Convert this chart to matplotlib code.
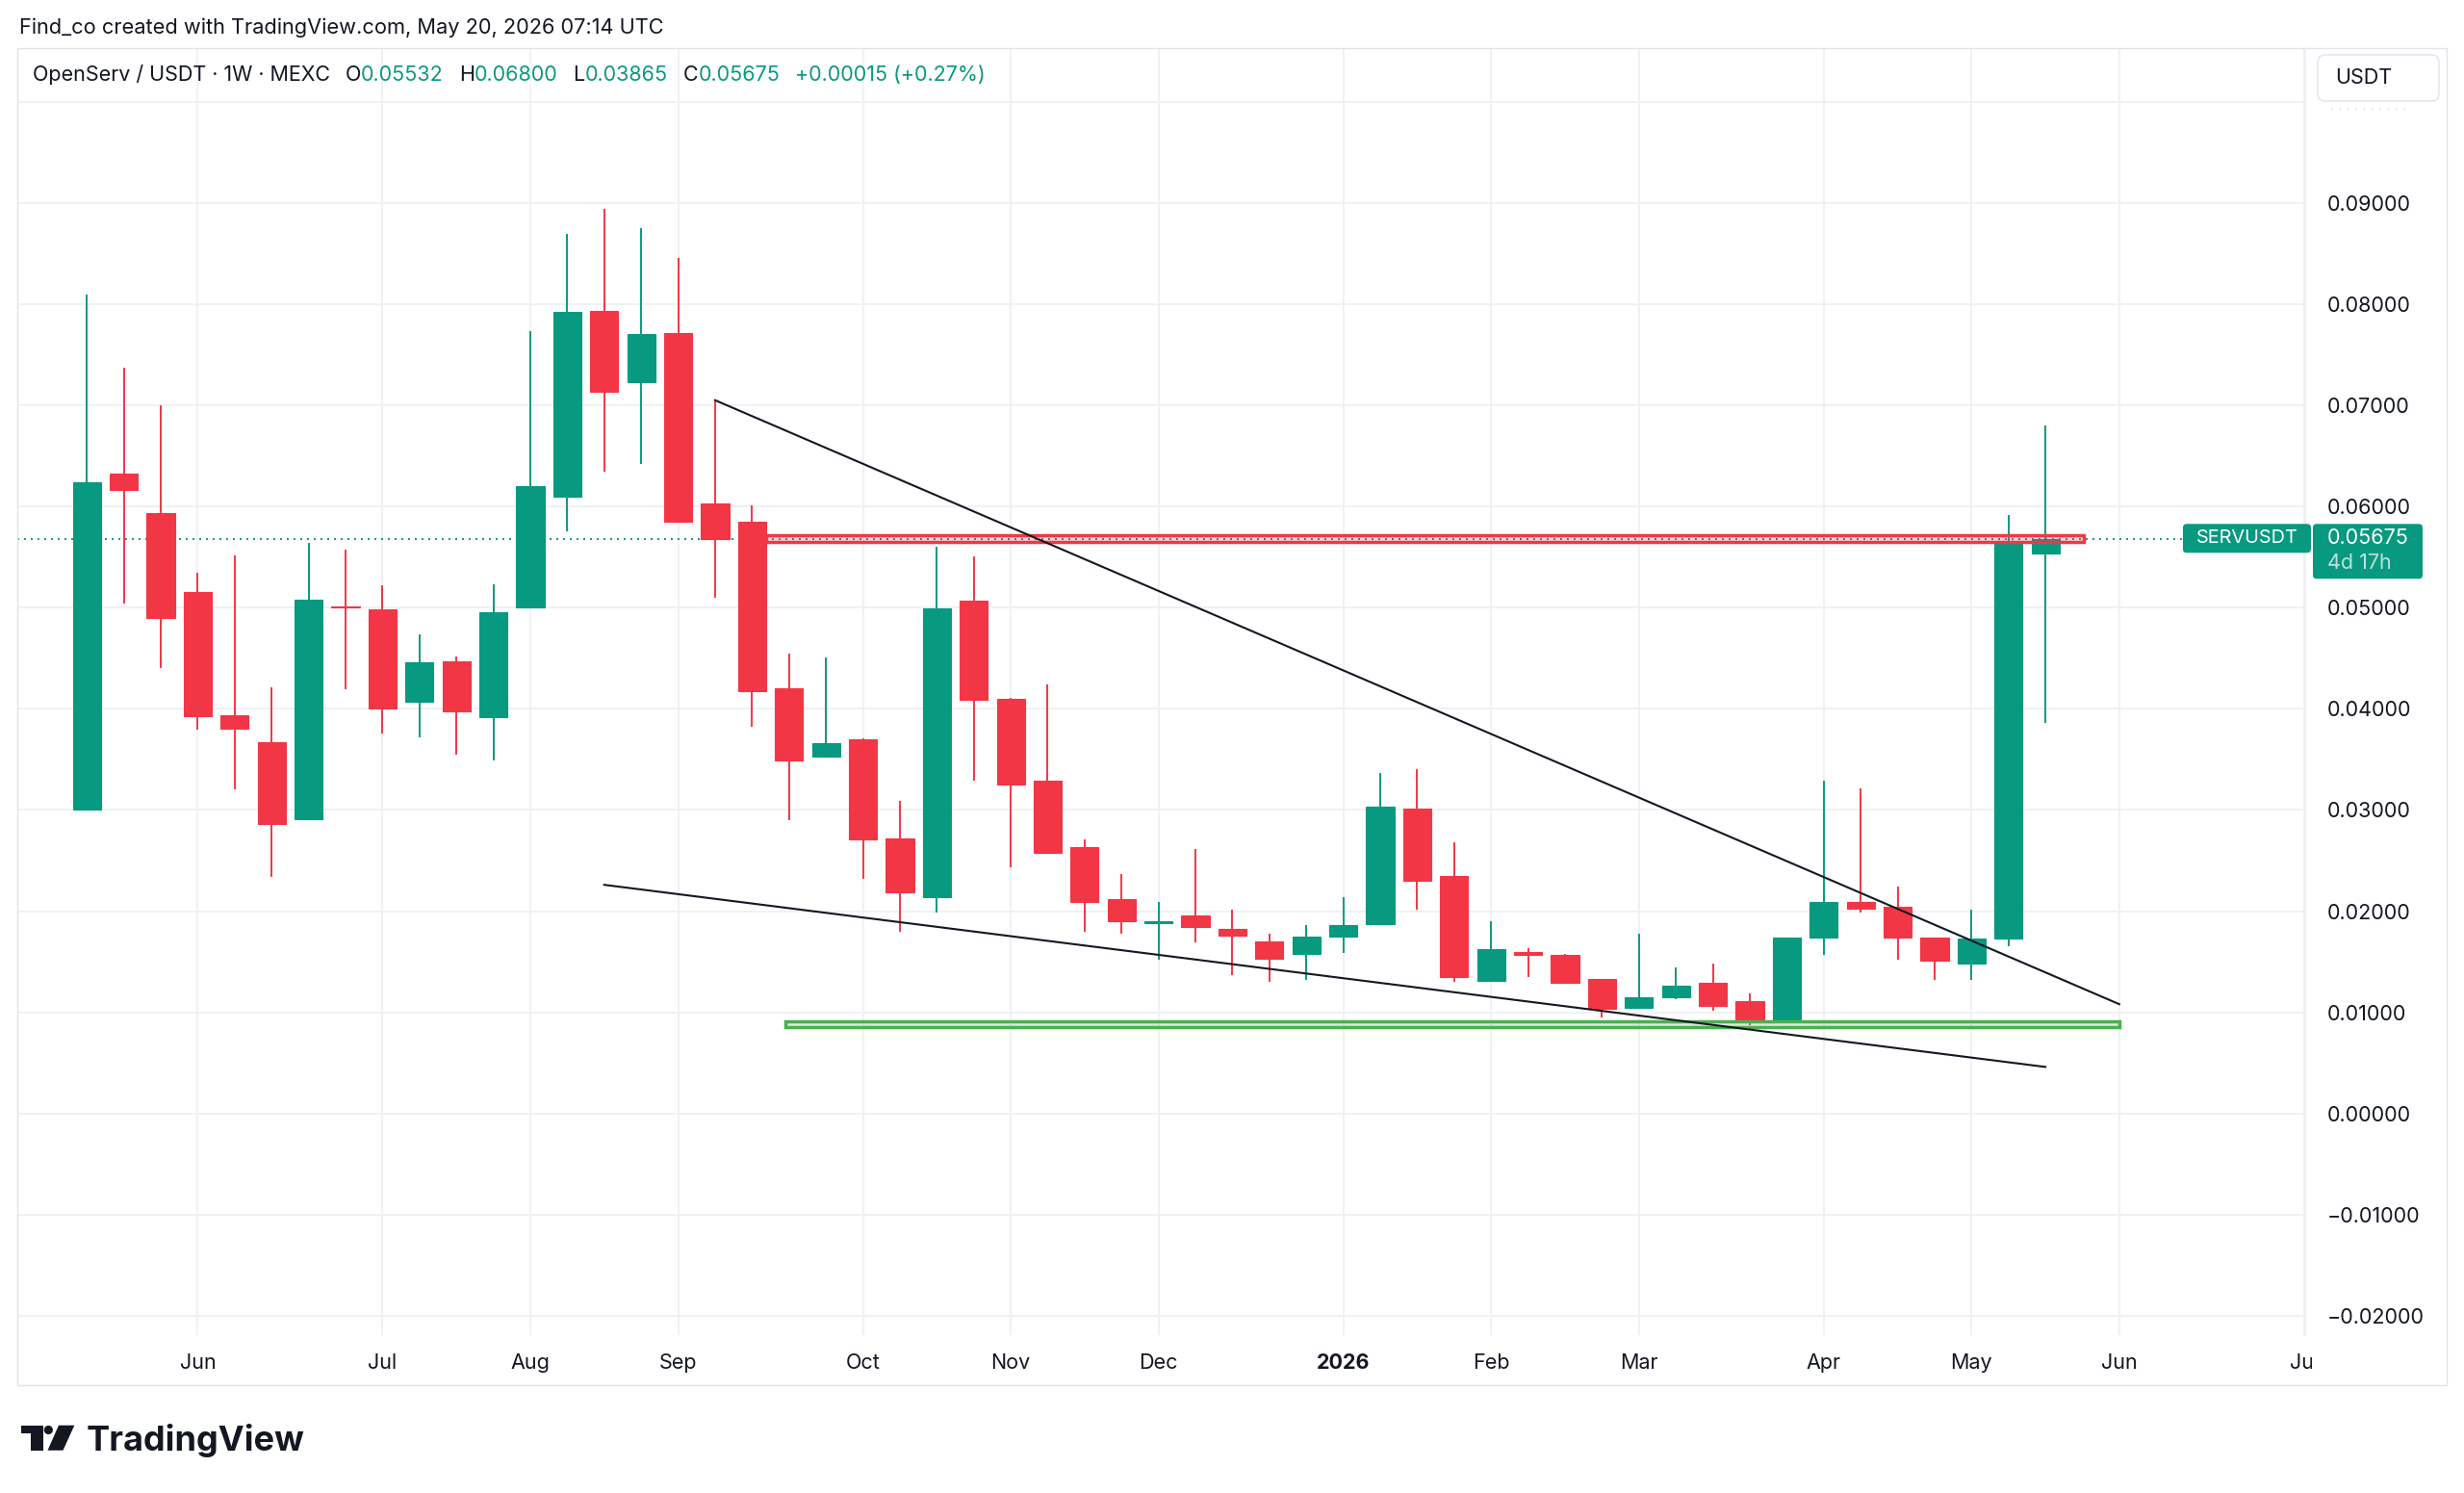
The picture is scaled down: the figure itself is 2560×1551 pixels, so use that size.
import matplotlib
matplotlib.use("Agg")  # no display
import matplotlib.pyplot as plt
from matplotlib.patches import Rectangle, FancyBboxPatch, Circle, Polygon
import numpy as np

W, H, DPI = 2560, 1551, 100

# weekly candles, week 0 = 12 May 2025 ... week 53 = 18 May 2026
opens = [0.0300, 0.0632, 0.0593, 0.0515, 0.0394, 0.0367, 0.0291, 0.0501, 0.0498, 0.0407,
         0.0447, 0.0392, 0.0500, 0.0610, 0.0793, 0.0723, 0.0771, 0.0603, 0.0585, 0.0420,
         0.0353, 0.0370, 0.0272, 0.0214, 0.0507, 0.0410, 0.0329, 0.0263, 0.0212, 0.0188,
         0.0196, 0.0182, 0.0170, 0.0158, 0.0175, 0.0187, 0.0301, 0.0235, 0.0131, 0.0160,
         0.0157, 0.0133, 0.0104, 0.0115, 0.0129, 0.0111, 0.0093, 0.0174, 0.0209, 0.0204,
         0.0174, 0.0148, 0.0173, 0.05532]
highs = [0.0809, 0.0737, 0.0700, 0.0534, 0.0552, 0.0421, 0.0564, 0.0557, 0.0522, 0.0474,
         0.0452, 0.0523, 0.0773, 0.0869, 0.0894, 0.0875, 0.0846, 0.0705, 0.0601, 0.0455,
         0.0451, 0.0371, 0.0309, 0.0560, 0.0551, 0.0411, 0.0424, 0.0271, 0.0237, 0.0209,
         0.0261, 0.0201, 0.0178, 0.0186, 0.0214, 0.0337, 0.0340, 0.0268, 0.0190, 0.0163,
         0.0158, 0.0133, 0.0178, 0.0144, 0.0148, 0.0119, 0.0174, 0.0329, 0.0321, 0.0224,
         0.0174, 0.0201, 0.0592, 0.06800]
lows = [0.0300, 0.0504, 0.0440, 0.0379, 0.0320, 0.0234, 0.0291, 0.0419, 0.0376, 0.0372,
        0.0355, 0.0349, 0.0500, 0.0575, 0.0634, 0.0642, 0.0585, 0.0510, 0.0382, 0.0290,
        0.0353, 0.0232, 0.0180, 0.0199, 0.0329, 0.0243, 0.0258, 0.0180, 0.0178, 0.0152,
        0.0169, 0.0137, 0.0130, 0.0132, 0.0159, 0.0187, 0.0201, 0.0130, 0.0131, 0.0135,
        0.0129, 0.0095, 0.0103, 0.0113, 0.0102, 0.0087, 0.0093, 0.0157, 0.0199, 0.0152,
        0.0132, 0.0132, 0.0165, 0.03865]
closes = [0.0624, 0.0616, 0.0490, 0.0393, 0.0380, 0.0286, 0.0508, 0.0500, 0.0400, 0.0446,
          0.0397, 0.0495, 0.0620, 0.0792, 0.0713, 0.0770, 0.0585, 0.0568, 0.0417, 0.0349,
          0.0366, 0.0271, 0.0219, 0.0499, 0.0409, 0.0325, 0.0258, 0.0209, 0.0190, 0.0190,
          0.0184, 0.0176, 0.0153, 0.0175, 0.0186, 0.0303, 0.0230, 0.0135, 0.0162, 0.0157,
          0.0129, 0.0103, 0.0115, 0.0126, 0.0106, 0.0092, 0.0174, 0.0209, 0.0202, 0.0174,
          0.0151, 0.0173, 0.0566, 0.05675]

# first weekly bar of each month
month_weeks = [3, 8, 12, 16, 21, 25, 29, 34, 38, 42, 47, 51, 55, 60]
month_labels = ["Jun", "Jul", "Aug", "Sep", "Oct", "Nov", "Dec", "2026",
                "Feb", "Mar", "Apr", "May", "Jun", "Jul"]
price_ticks = [-0.02, -0.01, 0.0, 0.01, 0.02, 0.03, 0.04, 0.05, 0.06, 0.07, 0.08, 0.09, 0.10]

# drawings
upper_trend_x = [17, 55]
upper_trend_y = [0.0705, 0.0108]
lower_trend_x = [14, 53]
lower_trend_y = [0.0226, 0.0046]
resistance_x = [18.38, 54.03]
resistance_y = [0.0565, 0.0572]
support_x = [18.9, 55.0]
support_y = [0.00853, 0.00911]

symbol = "SERVUSDT"
countdown = "4d 17h"

TEAL = "#089981"
RED = "#F23645"
GREEN = "#4CAF50"
DARK = "#131722"
GRID = "#f0f1f3"
BORDER = "#e0e3eb"
FS = 15.5

plt.rcParams["font.family"] = ["Inter", "DejaVu Sans"]

fig = plt.figure(figsize=(W / DPI, H / DPI), dpi=DPI, facecolor="white")

# plot area in pixels
L, R, T, B = 18.3, 2395, 50, 1387
ax = fig.add_axes([L / W, 1 - B / H, (R - L) / W, (B - T) / H])
ax.set_xlim(-1.875, 60.03)
ax.set_ylim(-0.02191, 0.10530)
for s in ax.spines.values():
    s.set_visible(False)

ax.set_xticks(month_weeks)
ax.set_yticks(price_ticks,
              labels=["" if v >= 0.1 else f"{v:.5f}".replace("-", "\u2212") for v in price_ticks])
ax.yaxis.tick_right()
ax.tick_params(axis="x", length=0, labelbottom=False)
ax.tick_params(axis="y", length=0, pad=16.6, labelsize=FS, labelcolor=DARK)
ax.grid(True, color=GRID, lw=1.4, zorder=0)
ax.set_axisbelow(True)

# candles
x = np.arange(len(opens))
o = np.array(opens)
c = np.array(closes)
colors = np.where(c >= o, TEAL, RED)
ax.vlines(x, lows, highs, colors=colors, lw=1.4, zorder=3)
ax.bar(x, np.abs(c - o), bottom=np.minimum(o, c), width=0.76,
       color=colors, edgecolor=colors, lw=0.8, zorder=4)

last_price = closes[-1]
ax.axhline(last_price, color=TEAL, lw=1.4, ls=(0, (1, 2.6)), zorder=3.5)

# zones and trendlines
ax.add_patch(Rectangle((resistance_x[0], resistance_y[0]), resistance_x[1] - resistance_x[0],
                       resistance_y[1] - resistance_y[0], facecolor=(0.949, 0.212, 0.271, 0.22),
                       edgecolor=RED, lw=2.5, zorder=5))
ax.add_patch(Rectangle((support_x[0], support_y[0]), support_x[1] - support_x[0],
                       support_y[1] - support_y[0], facecolor=(0.298, 0.686, 0.314, 0.22),
                       edgecolor=GREEN, lw=2.5, zorder=5))
ax.plot(upper_trend_x, upper_trend_y, color=DARK, lw=1.5, zorder=6)
ax.plot(lower_trend_x, lower_trend_y, color=DARK, lw=1.5, zorder=6)

# overlay in figure pixels (y down)
ov = fig.add_axes([0, 0, 1, 1], zorder=10)
ov.set_xlim(0, W)
ov.set_ylim(H, 0)
ov.axis("off")
ov.patch.set_alpha(0)


def to_px(xd, yd):
    px, py = ax.transData.transform((xd, yd))
    return px, H - py


# time axis labels (last one is cut by the price scale)
for w, lab in zip(month_weeks, month_labels):
    px, _ = to_px(w, 0)
    ov.text(px, 1416, lab, ha="center", va="center", fontsize=FS, color=DARK,
            fontweight="bold" if lab.isdigit() else "normal", zorder=1)
ov.add_patch(Rectangle((2401.5, B), W - 2401.5, 1439 - B, facecolor="white", edgecolor="none", zorder=2))

# frame + price scale separator
ov.add_patch(Rectangle((L, T), 2541.7 - L, 1439 - T, fill=False, edgecolor=BORDER, lw=1, zorder=3))
ov.plot([R, R], [T, B], color="#eceef1", lw=1.2, zorder=3)

# header
ov.text(20, 29, "Find_co created with TradingView.com, May 20, 2026 07:14 UTC",
        fontsize=15.7, va="center", color=DARK)

renderer = fig.canvas.get_renderer()
chg = closes[-1] - closes[-2]
pct = chg / closes[-2] * 100
pieces = [("OpenServ / USDT \u00b7 1W \u00b7 MEXC", DARK, 16),
          ("O", DARK, 0), (f"{opens[-1]:.5f}", TEAL, 16),
          ("H", DARK, 0), (f"{highs[-1]:.5f}", TEAL, 16),
          ("L", DARK, 0), (f"{lows[-1]:.5f}", TEAL, 16),
          ("C", DARK, 0), (f"{closes[-1]:.5f}", TEAL, 16),
          (f"{chg:+.5f} ({pct:+.2f}%)", TEAL, 0)]
xpos = 33.7
for s, col, gap in pieces:
    t = ov.text(xpos, 78, s, fontsize=FS, va="center", color=col)
    xpos += t.get_window_extent(renderer).width + gap

# USDT currency box
ov.add_patch(FancyBboxPatch((2408, 57), 126, 48, boxstyle="round,pad=0,rounding_size=8",
                            facecolor="white", edgecolor=BORDER, lw=1, zorder=4))
ov.text(2426, 81, "USDT", fontsize=FS, va="center", color=DARK, zorder=5)
ov.plot([2422, 2503], [113, 113], color="#c9ccd3", lw=1, ls=(0, (1, 5)))

# last price labels
_, ly = to_px(0, last_price)
ov.add_patch(FancyBboxPatch((2268, ly - 16), 133, 30, boxstyle="round,pad=0,rounding_size=4",
                            facecolor=TEAL, edgecolor="none", zorder=4))
ov.text(2335, ly - 1, symbol, fontsize=14.3, ha="center", va="center", color="white", zorder=5)
ov.add_patch(FancyBboxPatch((2403, ly - 16), 114, 57, boxstyle="round,pad=0,rounding_size=4",
                            facecolor=TEAL, edgecolor="none", zorder=4))
ov.text(2418, ly - 1, f"{last_price:.5f}", fontsize=FS, va="center", color="white", zorder=5)
ov.text(2418, ly + 25, countdown, fontsize=FS, va="center", color="white", alpha=0.72, zorder=5)

# TradingView logo
ov.add_patch(Rectangle((21.7, 1480.7), 23.3, 8.7, facecolor=DARK, edgecolor="none"))
ov.add_patch(Rectangle((31.7, 1480.7), 13.3, 26, facecolor=DARK, edgecolor="none"))
ov.add_patch(Circle((50.3, 1485.5), 4.6, facecolor=DARK, edgecolor="none"))
ov.add_patch(Polygon([(61, 1480.7), (77.3, 1480.7), (65.5, 1506.7), (49.5, 1506.7)],
                     closed=True, facecolor=DARK, edgecolor="none"))
ov.text(90, 1507, "TradingView", fontsize=26, fontweight="bold", va="baseline", color=DARK)

fig.savefig("out.png", dpi=DPI, facecolor="white")
